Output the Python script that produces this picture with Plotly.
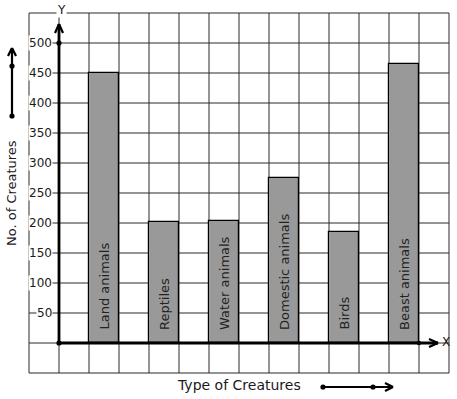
import plotly.graph_objects as go

# ---- data ----
categories = ["Land animals", "Reptiles", "Water animals", "Domestic animals", "Birds", "Beast animals"]
counts = [450, 202, 204, 275, 185, 465]
tick_values = [50, 100, 150, 200, 250, 300, 350, 400, 450, 500]
tick_labels = ["50", "100", "150", "200", "250", "300", "350", "400", "450", "500"]
x_title = "Type of Creatures"
y_title = "No. of Creatures"

# ---- geometry (pixels) ----
W, H = 457, 399
OX, OY = 59, 343          # origin pixel
CELL = 30                 # px per grid cell
UNIT = 50                 # value per grid cell (y)

def px(x):   # pixel x -> paper
    return x / W

def py(y):   # pixel y -> paper
    return 1 - y / H

x_range = [(0 - OX) / CELL, (W - OX) / CELL]
y_range = [(OY - H) / CELL * UNIT, (OY - 0) / CELL * UNIT]

FONT = "DejaVu Sans"
INK = "#1a1a1a"
GRID = "#2a2a2a"

bar_x = [1.5 + 2 * i for i in range(len(categories))]

fig = go.Figure()
fig.add_trace(go.Bar(
    x=bar_x, y=counts, width=1.0,
    marker=dict(color="#999999", line=dict(color="#000000", width=1.2)),
    hoverinfo="skip",
))

shapes = []
# grid lines (data coords)
for gx in range(-1, 14):
    shapes.append(dict(type="line", xref="x", yref="y", x0=gx, x1=gx, y0=-50, y1=550,
                       line=dict(color=GRID, width=1), layer="below"))
for gy in range(-50, 551, 50):
    shapes.append(dict(type="line", xref="x", yref="y", x0=-1, x1=13, y0=gy, y1=gy,
                       line=dict(color=GRID, width=1), layer="below"))

def line(x0, y0, x1, y1, w=2.5):
    shapes.append(dict(type="line", xref="paper", yref="paper", x0=px(x0), y0=py(y0),
                       x1=px(x1), y1=py(y1), line=dict(color="#000000", width=w), layer="above"))

def dot(x, y, r=2.6):
    shapes.append(dict(type="circle", xref="paper", yref="paper", x0=px(x - r), x1=px(x + r),
                       y0=py(y - r), y1=py(y + r), fillcolor="#000000",
                       line=dict(color="#000000", width=0), layer="above"))

# y axis with arrow
line(OX, OY, OX, 24, 2.8)
line(OX, 24, OX - 4, 33, 2.2)
line(OX, 24, OX + 4, 33, 2.2)
# x axis with arrow
line(OX, OY, 438, OY, 2.8)
line(438, OY, 429, OY - 4, 2.2)
line(438, OY, 429, OY + 4, 2.2)
dot(OX, OY)
dot(OX, 43)
dot(419, OY, 2.2)

# side arrow (y)
line(12, 116, 12, 48, 2.2)
line(12, 48, 8, 56, 2.2)
line(12, 48, 16, 56, 2.2)
dot(12, 66)
dot(12, 116)
# bottom arrow (x)
line(323, 387, 393, 387, 2.2)
line(393, 387, 385, 383, 2.2)
line(393, 387, 385, 391, 2.2)
dot(323, 387)
dot(373, 387)

annotations = []
for v, lab in zip(tick_values, tick_labels):
    annotations.append(dict(xref="paper", yref="y", x=px(53), y=v, text=lab, showarrow=False,
                            xanchor="right", yanchor="middle", bgcolor="#ffffff", borderpad=0,
                            font=dict(family=FONT, size=12, color=INK)))
for bx, cat in zip(bar_x, categories):
    annotations.append(dict(xref="x", yref="y", x=bx, y=(OY - 332) / CELL * UNIT, text=cat,
                            textangle=-90, showarrow=False, xanchor="center", yanchor="bottom",
                            font=dict(family=FONT, size=13, color="#222222")))
annotations.append(dict(xref="paper", yref="paper", x=px(61), y=py(10), text="Y", showarrow=False,
                        xanchor="center", yanchor="middle", bgcolor="#ffffff", borderpad=0,
                        font=dict(family=FONT, size=12, color=INK)))
annotations.append(dict(xref="paper", yref="paper", x=px(441), y=py(342), text="X", showarrow=False,
                        xanchor="left", yanchor="middle", borderpad=0,
                        font=dict(family=FONT, size=12, color=INK)))
annotations.append(dict(xref="paper", yref="paper", x=px(239), y=py(385), text=x_title, showarrow=False,
                        xanchor="center", yanchor="middle",
                        font=dict(family=FONT, size=14, color=INK)))
annotations.append(dict(xref="paper", yref="paper", x=px(12), y=py(193), text=y_title, showarrow=False,
                        textangle=-90, xanchor="center", yanchor="middle",
                        font=dict(family=FONT, size=13, color=INK)))

fig.update_layout(
    width=W, height=H,
    margin=dict(l=0, r=0, t=0, b=0, pad=0),
    paper_bgcolor="#ffffff", plot_bgcolor="#ffffff",
    showlegend=False,
    xaxis=dict(range=x_range, visible=False, fixedrange=True),
    yaxis=dict(range=y_range, visible=False, fixedrange=True),
    shapes=shapes, annotations=annotations,
    bargap=0,
)

fig.write_html("out.html", config={"displayModeBar": False},
               post_script="document.body.style.margin='0px';document.body.style.overflow='hidden';")
